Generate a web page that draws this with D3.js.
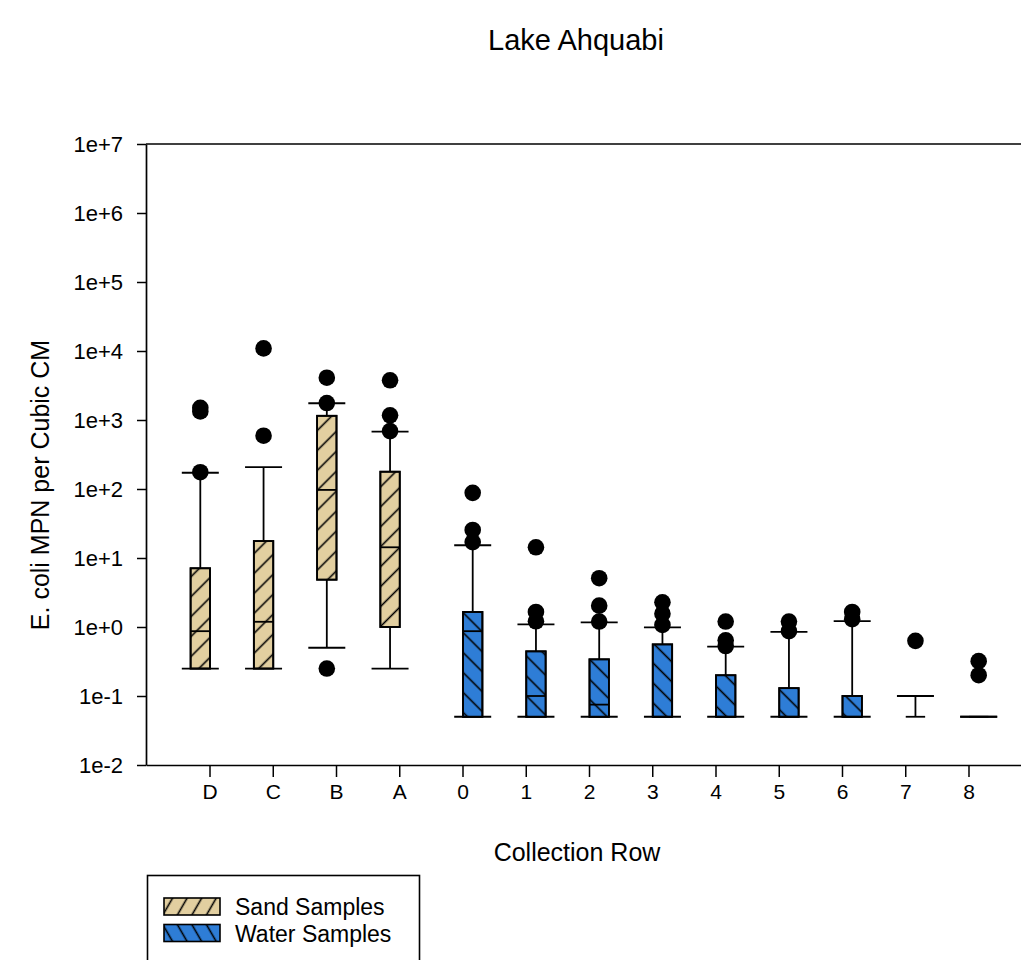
<!DOCTYPE html>
<html>
<head>
<meta charset="utf-8">
<script src="https://cdn.jsdelivr.net/npm/d3@7"></script>
<style>
  html, body { margin: 0; padding: 0; background: #fff; }
  svg { display: block; }
  text { font-family: "Liberation Sans", Arial, sans-serif; fill: #000; }
</style>
</head>
<body>
<svg id="chart" width="1021" height="960"></svg>
<script>
// Collection rows, from the shore (sand) out into the lake (water)
const categories = ["D", "C", "B", "A", "0", "1", "2", "3", "4", "5", "6", "7", "8"];
const sampleType = ["Sand", "Sand", "Sand", "Sand", "Water", "Water", "Water", "Water", "Water", "Water", "Water", "Water", "Water"];

// Box statistics, E. coli MPN per cubic cm
const q1 =          [0.25, 0.25, 4.85, 1.0,  0.05, 0.05, 0.05, 0.05, 0.05, 0.05, 0.05, 0.05, 0.05];
const median =      [0.87, 1.19, 97,   14.3, 0.87, 0.1,  0.075, 0.05, 0.05, 0.05, 0.05, 0.05, 0.05];
const q3 =          [7.1,  17.6, 1150, 178,  1.65, 0.444, 0.34, 0.56, 0.2, 0.13, 0.1, 0.05, 0.05];
const whiskerLow =  [0.25, 0.25, 0.5,  0.25, 0.05, 0.05, 0.05, 0.05, 0.05, 0.05, 0.05, null, 0.05];
const whiskerHigh = [172,  208,  1750, 680,  15.3, 1.09, 1.17, 0.99, 0.52, 0.85, 1.22, 0.1, 0.05];
const outliers = [
  [1500, 1330, 175],
  [10900, 592],
  [4100, 1760, 0.25],
  [3760, 1170, 690],
  [88, 25.5, 17],
  [14.3, 1.65, 1.21],
  [5.1, 2.04, 1.2],
  [2.28, 1.56, 1.07],
  [1.2, 0.64, 0.53],
  [1.2, 0.87],
  [1.65, 1.3],
  [0.63],
  [0.32, 0.2]
];

// Axis ticks
const yTickValues = [1e-2, 1e-1, 1e0, 1e1, 1e2, 1e3, 1e4, 1e5, 1e6, 1e7];
const yTickLabels = ["1e-2", "1e-1", "1e+0", "1e+1", "1e+2", "1e+3", "1e+4", "1e+5", "1e+6", "1e+7"];

const groups = ["Sand", "Water"];
const groupFill = { Sand: "#e2cfa0", Water: "#2e7dd6" };
const legendLabels = ["Sand Samples", "Water Samples"];

const svg = d3.select("#chart");

const plot = { left: 146, right: 1033, top: 144, bottom: 765 };

const x = d3.scaleBand()
  .domain(categories)
  .range([plot.left, plot.right])
  .paddingInner(0)
  .paddingOuter(0.512);

const xGroup = d3.scaleBand()
  .domain(groups)
  .range([-19.4, 19.4])
  .padding(0);

const y = d3.scaleLog()
  .domain([1e-2, 1e7])
  .range([plot.bottom, plot.top]);

// Hatch patterns
const defs = svg.append("defs");
function hatch(id, angle, spacing, width) {
  const p = defs.append("pattern")
    .attr("id", id)
    .attr("patternUnits", "userSpaceOnUse")
    .attr("width", spacing)
    .attr("height", spacing)
    .attr("patternTransform", `rotate(${angle})`);
  p.append("line")
    .attr("x1", spacing / 2).attr("y1", -1)
    .attr("x2", spacing / 2).attr("y2", spacing + 1)
    .attr("stroke", "#000")
    .attr("stroke-width", width);
}
hatch("hatch-sand", 45, 14.1, 1.6);
hatch("hatch-water", -45, 14.1, 1.6);
hatch("hatch-sand-key", 30, 12.6, 1.6);
hatch("hatch-water-key", -30, 12.6, 1.6);

// Title
svg.append("text")
  .attr("x", 576).attr("y", 50)
  .attr("text-anchor", "middle")
  .attr("font-size", 29)
  .text("Lake Ahquabi");

// Frame line along the top of the plot
svg.append("line")
  .attr("x1", plot.left).attr("x2", plot.right)
  .attr("y1", plot.top).attr("y2", plot.top)
  .attr("stroke", "#000").attr("stroke-width", 1.7);

// Y axis
const yAxis = svg.append("g")
  .attr("transform", `translate(${plot.left},0)`)
  .call(d3.axisLeft(y)
    .tickValues(yTickValues)
    .tickFormat((d, i) => yTickLabels[i])
    .tickSize(9)
    .tickPadding(14)
    .tickSizeOuter(0));
yAxis.selectAll("text")
  .attr("font-size", 22)
  .attr("font-family", "'Liberation Sans', Arial, sans-serif");

// X axis
const xAxis = svg.append("g")
  .attr("transform", `translate(0,${plot.bottom})`)
  .call(d3.axisBottom(x)
    .tickSize(12)
    .tickPadding(7)
    .tickSizeOuter(0));
xAxis.selectAll("text")
  .attr("font-size", 21)
  .attr("font-family", "'Liberation Sans', Arial, sans-serif");

[yAxis, xAxis].forEach(ax => {
  ax.select(".domain").attr("stroke-width", 1.7);
  ax.selectAll(".tick line").attr("stroke-width", 1.5);
});

// Axis titles
svg.append("text")
  .attr("x", 577).attr("y", 861)
  .attr("text-anchor", "middle")
  .attr("font-size", 25)
  .text("Collection Row");

svg.append("text")
  .attr("transform", "translate(49,485) rotate(-90)")
  .attr("text-anchor", "middle")
  .attr("font-size", 25)
  .text("E. coli MPN per Cubic CM");

// Box plots
const rows = categories.map((c, i) => ({
  cat: c,
  group: sampleType[i],
  q1: q1[i], median: median[i], q3: q3[i],
  lo: whiskerLow[i], hi: whiskerHigh[i],
  out: outliers[i]
}));

const boxW = xGroup.bandwidth();
const capW = 37;

const g = svg.append("g").attr("stroke", "#000").attr("stroke-width", 1.8);

rows.forEach(r => {
  const cx = x(r.cat) + x.bandwidth() / 2 + xGroup(r.group) + boxW / 2;
  const yq1 = y(r.q1), yq3 = y(r.q3);

  // upper whisker and cap
  g.append("line")
    .attr("x1", cx).attr("x2", cx)
    .attr("y1", yq3).attr("y2", y(r.hi));
  g.append("line")
    .attr("x1", cx - capW / 2).attr("x2", cx + capW / 2)
    .attr("y1", y(r.hi)).attr("y2", y(r.hi));

  // lower whisker and cap
  if (r.lo !== null) {
    g.append("line")
      .attr("x1", cx).attr("x2", cx)
      .attr("y1", yq1).attr("y2", y(r.lo));
    g.append("line")
      .attr("x1", cx - capW / 2).attr("x2", cx + capW / 2)
      .attr("y1", y(r.lo)).attr("y2", y(r.lo));
  }

  // box with hatch overlay
  const h = Math.max(0, yq1 - yq3);
  g.append("rect")
    .attr("x", cx - boxW / 2).attr("y", yq3)
    .attr("width", boxW).attr("height", h)
    .attr("fill", groupFill[r.group]);
  g.append("rect")
    .attr("x", cx - boxW / 2).attr("y", yq3)
    .attr("width", boxW).attr("height", h)
    .attr("fill", `url(#hatch-${r.group.toLowerCase()})`);

  // median
  g.append("line")
    .attr("x1", cx - boxW / 2).attr("x2", cx + boxW / 2)
    .attr("y1", y(r.median)).attr("y2", y(r.median));

  // outliers
  r.out.forEach(v => {
    svg.append("circle")
      .attr("cx", cx).attr("cy", y(v))
      .attr("r", 8.3)
      .attr("fill", "#000");
  });
});

// Legend
const legend = svg.append("g");
legend.append("rect")
  .attr("x", 147.5).attr("y", 875.5)
  .attr("width", 272).attr("height", 100)
  .attr("fill", "#fff")
  .attr("stroke", "#000").attr("stroke-width", 1.6);

groups.forEach((grp, i) => {
  const yy = 898 + i * 26.5;
  legend.append("rect")
    .attr("x", 164).attr("y", yy)
    .attr("width", 56).attr("height", 17)
    .attr("fill", groupFill[grp]);
  legend.append("rect")
    .attr("x", 164).attr("y", yy)
    .attr("width", 56).attr("height", 17)
    .attr("fill", `url(#hatch-${grp.toLowerCase()}-key)`)
    .attr("stroke", "#000").attr("stroke-width", 1.6);
  legend.append("text")
    .attr("x", 235).attr("y", yy + 17)
    .attr("font-size", 23)
    .text(legendLabels[i]);
});
</script>
</body>
</html>
